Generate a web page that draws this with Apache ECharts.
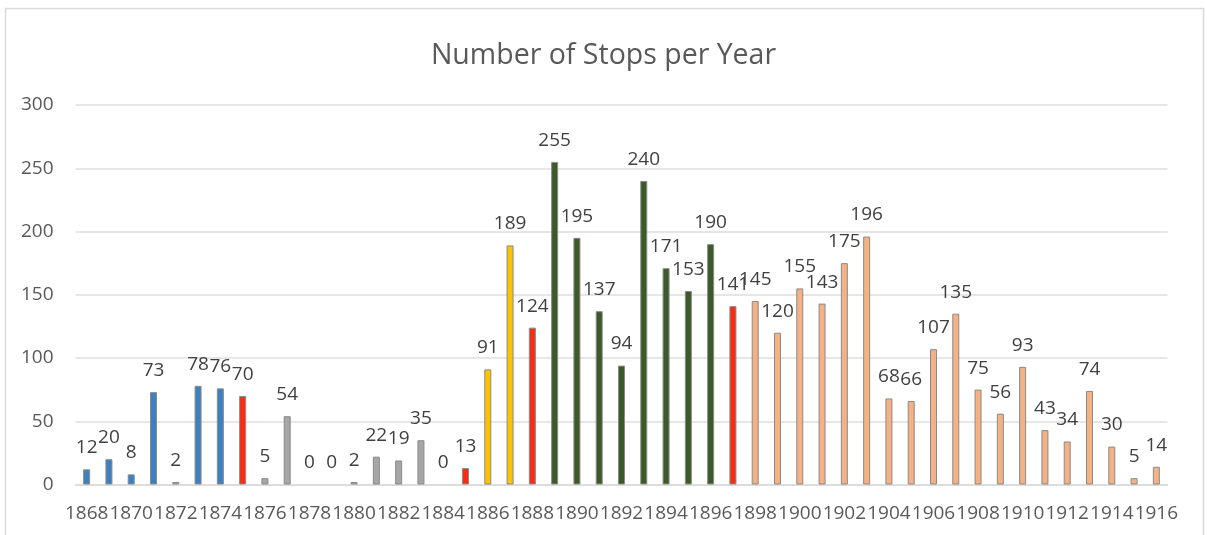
<!DOCTYPE html>
<html>
<head>
<meta charset="utf-8">
<script src="https://cdn.jsdelivr.net/npm/echarts@6/dist/echarts.min.js"></script>
<style>
html,body{margin:0;padding:0;background:#fff;}
#chart{width:1207px;height:535px;}
</style>
</head>
<body>
<div id="chart"></div>
<script>
var years = ['1868','1869','1870','1871','1872','1873','1874','1875','1876','1877',
  '1878','1879','1880','1881','1882','1883','1884','1885','1886','1887',
  '1888','1889','1890','1891','1892','1893','1894','1895','1896','1897',
  '1898','1899','1900','1901','1902','1903','1904','1905','1906','1907',
  '1908','1909','1910','1911','1912','1913','1914','1915','1916'];
var stops = [12,20,8,73,2,78,76,70,5,54,
  0,0,2,22,19,35,0,13,91,189,
  124,255,195,137,94,240,171,153,190,141,
  145,120,155,143,175,196,68,66,107,135,
  75,56,93,43,34,74,30,5,14];
var periods = ['A','A','A','A','B','A','A','R','B','B',
  'B','B','B','B','B','B','B','R','Y','Y',
  'R','G','G','G','G','G','G','G','G','R',
  'P','P','P','P','P','P','P','P','P','P',
  'P','P','P','P','P','P','P','P','P'];
var yTicks = [0,50,100,150,200,250,300];

var periodColor = {A:'#3b80c1', B:'#a6a6a6', R:'#fb2b14', Y:'#ffc000', G:'#3b5a27', P:'#f4b183'};
var FONT = '"Open Sans", sans-serif';

var chart = echarts.init(document.getElementById('chart'), null, {renderer:'canvas'});
chart.setOption({
  animation:false,
  backgroundColor:'#fff',
  graphic:[{type:'rect', shape:{x:5.5,y:8.5,width:1198,height:560},
    style:{fill:'none', stroke:'#d9d9d9', lineWidth:1.5}, silent:true}],
  title:{text:'Number of Stops per Year', left:'center', top:36,
    textStyle:{fontFamily:FONT, fontSize:28.5, fontWeight:'normal', color:'#595959'}},
  grid:{left:75.5, right:39.5, top:105, bottom:50.5},
  xAxis:{type:'category', data:years,
    axisLine:{show:true, lineStyle:{color:'#d9d9d9', width:1.5}},
    axisTick:{show:false},
    axisLabel:{interval:1, margin:20, fontFamily:FONT, fontSize:19, color:'#595959'}},
  yAxis:{type:'value', min:yTicks[0], max:yTicks[yTicks.length-1], interval:50,
    axisLine:{show:false}, axisTick:{show:false},
    splitLine:{lineStyle:{color:'#dedede', width:1.5}},
    axisLabel:{margin:22, fontFamily:FONT, fontSize:19, color:'#595959'}},
  series:[{type:'bar', barWidth:7,
    data: stops.map(function(v,i){
      return {value:v, itemStyle:{color:periodColor[periods[i]], borderColor:'#8a8a8a', borderWidth: v === 0 ? 0 : 1}};
    }),
    label:{show:true, position:'top', distance:12, fontFamily:FONT, fontSize:19, color:'#404040'}
  }]
});
</script>
</body>
</html>
